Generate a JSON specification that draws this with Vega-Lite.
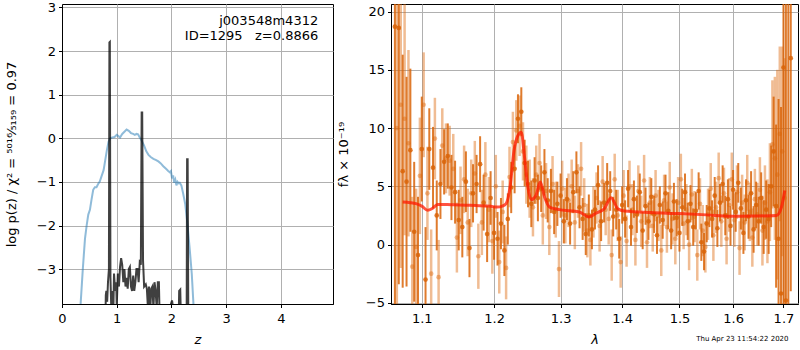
{
 "$schema": "https://vega.github.io/schema/vega-lite/v6.json",
 "padding": {"left": 4, "top": 0, "right": 0, "bottom": 0},
 "spacing": 2,
 "title": {"text": "Thu Apr 23 11:54:22 2020", "orient": "bottom", "anchor": "end", "fontSize": 7, "fontWeight": "normal", "color": "black", "offset": -12, "dx": -10},
 "config": {
  "font": "DejaVu Sans",
  "view": {"stroke": "black", "strokeWidth": 1},
  "axis": {"grid": true, "gridColor": "#b0b0b0", "gridWidth": 1, "domainColor": "black", "tickColor": "black", "tickSize": 3.5, "labelFontSize": 13, "labelColor": "black", "labelPadding": 3, "titleFontSize": 13, "titleFontWeight": "normal", "titleColor": "black", "labelFlush": false, "labelOverlap": false},
  "axisX": {"labelPadding": 5, "titlePadding": 8}
 },
 "datasets": {
  "blue": [
   {"z":0.30,"p":-5},{"z":0.34,"p":-3.8},{"z":0.38,"p":-3.0},{"z":0.42,"p":-2.3},{"z":0.45,"p":-2.0},{"z":0.48,"p":-1.75},{"z":0.51,"p":-1.64},{"z":0.54,"p":-1.4},{"z":0.57,"p":-1.18},{"z":0.60,"p":-1.12},{"z":0.63,"p":-1.12},{"z":0.66,"p":-1.05},{"z":0.69,"p":-0.99},{"z":0.72,"p":-0.88},{"z":0.76,"p":-0.73},{"z":0.79,"p":-0.5},{"z":0.82,"p":-0.27},{"z":0.85,"p":-0.08},{"z":0.88,"p":0.0},{"z":0.92,"p":0.02},{"z":0.96,"p":0.03},{"z":1.00,"p":0.08},{"z":1.03,"p":0.05},{"z":1.06,"p":0.02},{"z":1.10,"p":0.1},{"z":1.14,"p":0.15},{"z":1.18,"p":0.2},{"z":1.22,"p":0.17},{"z":1.26,"p":0.12},{"z":1.30,"p":0.1},{"z":1.33,"p":0.08},{"z":1.36,"p":0.1},{"z":1.39,"p":0.09},{"z":1.42,"p":0.02},{"z":1.45,"p":-0.04},{"z":1.50,"p":-0.17},{"z":1.54,"p":-0.3},{"z":1.58,"p":-0.38},{"z":1.62,"p":-0.43},{"z":1.67,"p":-0.47},{"z":1.72,"p":-0.5},{"z":1.76,"p":-0.53},{"z":1.80,"p":-0.57},{"z":1.85,"p":-0.64},{"z":1.90,"p":-0.7},{"z":1.94,"p":-0.75},{"z":1.97,"p":-0.78},{"z":1.99,"p":-0.75},{"z":2.01,"p":-0.92},{"z":2.03,"p":-0.85},{"z":2.05,"p":-1.02},{"z":2.07,"p":-0.95},{"z":2.09,"p":-1.08},{"z":2.11,"p":-1.0},{"z":2.13,"p":-1.03},{"z":2.15,"p":-1.02},{"z":2.18,"p":-1.08},{"z":2.21,"p":-1.25},{"z":2.25,"p":-1.5},{"z":2.29,"p":-1.95},{"z":2.33,"p":-2.5},{"z":2.37,"p":-3.1},{"z":2.40,"p":-3.78},{"z":2.43,"p":-4.5}
  ],
  "black": [
   {"z":0.75,"p":-6},{"z":0.79,"p":-4.5},{"z":0.80,"p":-3.6},{"z":0.81,"p":-3.5},{"z":0.825,"p":-3.75},{"z":0.84,"p":-3.3},{"z":0.857,"p":-3.0},{"z":0.866,"p":2.2},{"z":0.874,"p":2.21},{"z":0.885,"p":-3.2},{"z":0.90,"p":-3.9},{"z":0.92,"p":-3.5},{"z":0.935,"p":-4.2},{"z":0.95,"p":-3.1},{"z":0.97,"p":-3.5},{"z":0.99,"p":-3.3},{"z":1.00,"p":-3.85},{"z":1.02,"p":-3.1},{"z":1.04,"p":-3.4},{"z":1.06,"p":-2.95},{"z":1.08,"p":-2.75},{"z":1.10,"p":-2.9},{"z":1.12,"p":-3.3},{"z":1.14,"p":-3.0},{"z":1.16,"p":-3.4},{"z":1.18,"p":-3.2},{"z":1.20,"p":-3.45},{"z":1.22,"p":-3.0},{"z":1.24,"p":-2.95},{"z":1.26,"p":-3.4},{"z":1.28,"p":-3.5},{"z":1.30,"p":-3.15},{"z":1.32,"p":-3.5},{"z":1.34,"p":-3.3},{"z":1.36,"p":-3.0},{"z":1.38,"p":-3.0},{"z":1.40,"p":-3.3},{"z":1.42,"p":-2.85},{"z":1.44,"p":-2.9},{"z":1.455,"p":0.59},{"z":1.465,"p":0.59},{"z":1.48,"p":-2.8},{"z":1.50,"p":-3.4},{"z":1.53,"p":-3.35},{"z":1.55,"p":-3.45},{"z":1.57,"p":-3.9},{"z":1.59,"p":-3.4},{"z":1.61,"p":-4.0},{"z":1.63,"p":-3.45},{"z":1.65,"p":-3.4},{"z":1.67,"p":-3.9},{"z":1.69,"p":-3.3},{"z":1.71,"p":-3.5},{"z":1.73,"p":-3.9},{"z":1.75,"p":-3.3},{"z":1.77,"p":-3.3},{"z":1.79,"p":-4.5},{"z":1.85,"p":-6},{"z":1.95,"p":-6},{"z":1.99,"p":-3.8},{"z":2.01,"p":-3.72},{"z":2.03,"p":-3.9},{"z":2.08,"p":-6},{"z":2.12,"p":-5},{"z":2.14,"p":-3.5},{"z":2.16,"p":-3.47},{"z":2.18,"p":-4.5},{"z":2.22,"p":-6},{"z":2.275,"p":-5},{"z":2.285,"p":-0.48},{"z":2.295,"p":-0.48},{"z":2.31,"p":-5},{"z":2.35,"p":-6}
  ],
  "label": [
   {"z":4.68,"p":2.68,"t":"j003548m4312"},
   {"z":4.68,"p":2.34,"t":"ID=1295\u00a0\u00a0\u00a0z=0.8866"}
  ],
  "a": [
   {"l":1.065,"f":18.7,"e":25},{"l":1.070,"f":18.6,"e":22},{"l":1.075,"f":6.3,"e":10},{"l":1.080,"f":5.4,"e":9},{"l":1.085,"f":8.1,"e":7},{"l":1.090,"f":1.1,"e":6},{"l":1.095,"f":-0.9,"e":5},{"l":1.100,"f":8.2,"e":4.5},{"l":1.105,"f":-3.0,"e":4.5},{"l":1.110,"f":8.2,"e":3.5},{"l":1.115,"f":6.6,"e":3.5},{"l":1.120,"f":2.5,"e":3},{"l":1.125,"f":5.2,"e":3},{"l":1.130,"f":7.1,"e":2.8},{"l":1.135,"f":7.6,"e":2.8},{"l":1.140,"f":4.9,"e":2.8},{"l":1.145,"f":4.5,"e":2.7},{"l":1.150,"f":2.1,"e":2.6},{"l":1.155,"f":1.5,"e":2.6},{"l":1.160,"f":5.4,"e":2.6},{"l":1.165,"f":-0.3,"e":2.5},{"l":1.170,"f":4.4,"e":2.5},{"l":1.175,"f":5.2,"e":2.5},{"l":1.180,"f":6.9,"e":2.4},{"l":1.185,"f":3.6,"e":2.4},{"l":1.190,"f":0.9,"e":2.4},{"l":1.195,"f":4.0,"e":2.3},{"l":1.200,"f":1.0,"e":2.3},{"l":1.205,"f":0.5,"e":2.3},{"l":1.210,"f":1.8,"e":2.2},{"l":1.215,"f":-0.5,"e":2.2},{"l":1.220,"f":2.2,"e":2.2},{"l":1.225,"f":4.9,"e":2.2},{"l":1.230,"f":6.5,"e":2.1},{"l":1.235,"f":10.8,"e":2.1},{"l":1.240,"f":11.4,"e":2.1},{"l":1.245,"f":7.0,"e":2.0},{"l":1.250,"f":5.2,"e":2.0},{"l":1.255,"f":3.5,"e":2.0},{"l":1.260,"f":5.5,"e":2.0},{"l":1.265,"f":4.0,"e":2.0},{"l":1.270,"f":4.8,"e":2.0},{"l":1.275,"f":6.2,"e":2.0},{"l":1.280,"f":3.8,"e":1.9},{"l":1.285,"f":4.6,"e":1.9},{"l":1.290,"f":2.8,"e":1.9},{"l":1.295,"f":3.5,"e":1.9},{"l":1.300,"f":4.2,"e":1.9},{"l":1.305,"f":2.0,"e":1.9},{"l":1.310,"f":3.9,"e":1.8},{"l":1.315,"f":1.8,"e":1.8},{"l":1.320,"f":4.5,"e":1.8},{"l":1.325,"f":6.2,"e":1.8},{"l":1.330,"f":3.2,"e":1.8},{"l":1.335,"f":2.2,"e":1.8},{"l":1.340,"f":0.9,"e":1.8},{"l":1.345,"f":2.5,"e":1.8},{"l":1.350,"f":1.3,"e":1.7},{"l":1.355,"f":3.0,"e":1.7},{"l":1.360,"f":5.1,"e":1.7},{"l":1.365,"f":2.0,"e":1.7},{"l":1.370,"f":3.6,"e":1.7},{"l":1.375,"f":5.3,"e":1.7},{"l":1.380,"f":4.6,"e":1.7},{"l":1.385,"f":2.4,"e":1.7},{"l":1.390,"f":3.0,"e":1.7},{"l":1.395,"f":0.5,"e":1.7},{"l":1.400,"f":3.4,"e":1.6},{"l":1.405,"f":2.2,"e":1.6},{"l":1.410,"f":4.8,"e":1.6},{"l":1.415,"f":1.5,"e":1.6},{"l":1.420,"f":3.9,"e":1.6},{"l":1.425,"f":2.6,"e":1.6},{"l":1.430,"f":4.5,"e":1.6},{"l":1.435,"f":1.2,"e":1.6},{"l":1.440,"f":3.3,"e":1.6},{"l":1.445,"f":2.0,"e":1.6},{"l":1.450,"f":4.1,"e":1.6},{"l":1.455,"f":2.6,"e":1.6},{"l":1.460,"f":0.8,"e":1.6},{"l":1.465,"f":3.4,"e":1.6},{"l":1.470,"f":2.1,"e":1.6},{"l":1.475,"f":4.4,"e":1.6},{"l":1.480,"f":2.9,"e":1.6},{"l":1.485,"f":1.2,"e":1.6},{"l":1.490,"f":3.7,"e":1.6},{"l":1.495,"f":2.3,"e":1.6},{"l":1.500,"f":1.0,"e":1.6},{"l":1.505,"f":3.2,"e":1.6},{"l":1.510,"f":4.5,"e":1.6},{"l":1.515,"f":2.0,"e":1.6},{"l":1.520,"f":3.5,"e":1.6},{"l":1.525,"f":1.5,"e":1.6},{"l":1.530,"f":2.9,"e":1.6},{"l":1.535,"f":4.6,"e":1.6},{"l":1.540,"f":0.2,"e":1.6},{"l":1.545,"f":-0.6,"e":1.6},{"l":1.550,"f":1.8,"e":1.6},{"l":1.555,"f":3.1,"e":1.6},{"l":1.560,"f":2.2,"e":1.6},{"l":1.565,"f":4.2,"e":1.6},{"l":1.570,"f":1.4,"e":1.6},{"l":1.575,"f":3.6,"e":1.6},{"l":1.580,"f":5.2,"e":1.6},{"l":1.585,"f":2.5,"e":1.7},{"l":1.590,"f":3.9,"e":1.7},{"l":1.595,"f":1.6,"e":1.7},{"l":1.600,"f":4.7,"e":1.7},{"l":1.605,"f":2.8,"e":1.7},{"l":1.610,"f":5.3,"e":1.7},{"l":1.615,"f":3.1,"e":1.8},{"l":1.620,"f":1.0,"e":1.8},{"l":1.625,"f":3.8,"e":1.8},{"l":1.630,"f":2.4,"e":1.9},{"l":1.635,"f":4.4,"e":1.9},{"l":1.640,"f":1.3,"e":2.0},{"l":1.645,"f":3.4,"e":2.0},{"l":1.650,"f":2.0,"e":2.1},{"l":1.655,"f":4.0,"e":2.2},{"l":1.660,"f":1.5,"e":2.3},{"l":1.665,"f":3.0,"e":2.5},{"l":1.670,"f":2.2,"e":3.0},{"l":1.675,"f":5.0,"e":3.5},{"l":1.680,"f":8.0,"e":4.7},{"l":1.685,"f":3.3,"e":7},{"l":1.690,"f":0.5,"e":12},{"l":1.695,"f":-4.2,"e":16},{"l":1.700,"f":15.2,"e":25},{"l":1.705,"f":-4.8,"e":30},{"l":1.710,"f":-5.5,"e":30},{"l":1.715,"f":16,"e":20}
  ],
  "b": [
   {"l":1.0675,"f":10.0,"e":18},{"l":1.0725,"f":12.0,"e":14},{"l":1.0775,"f":10.8,"e":10},{"l":1.0825,"f":8.7,"e":8},{"l":1.0875,"f":-1.9,"e":6},{"l":1.0925,"f":-0.2,"e":5},{"l":1.0975,"f":5.9,"e":5},{"l":1.1025,"f":12.0,"e":4.5},{"l":1.1075,"f":4.4,"e":4},{"l":1.1125,"f":-2.5,"e":3.8},{"l":1.1175,"f":9.1,"e":3.5},{"l":1.1225,"f":-2.8,"e":3.2},{"l":1.1275,"f":8.5,"e":3.2},{"l":1.1325,"f":7.4,"e":3},{"l":1.1375,"f":7.2,"e":3},{"l":1.1425,"f":6.5,"e":3},{"l":1.1475,"f":0.6,"e":3},{"l":1.1525,"f":3.8,"e":2.9},{"l":1.1575,"f":5.6,"e":2.9},{"l":1.1625,"f":1.9,"e":2.9},{"l":1.1675,"f":4.4,"e":2.9},{"l":1.1725,"f":6.1,"e":2.8},{"l":1.1775,"f":-1.0,"e":2.8},{"l":1.1825,"f":1.9,"e":2.8},{"l":1.1875,"f":6.0,"e":2.8},{"l":1.1925,"f":3.0,"e":2.8},{"l":1.1975,"f":0.3,"e":2.8},{"l":1.2025,"f":5.0,"e":2.7},{"l":1.2075,"f":-1.5,"e":2.7},{"l":1.2125,"f":2.8,"e":2.7},{"l":1.2175,"f":-2.0,"e":2.7},{"l":1.2225,"f":5.8,"e":2.6},{"l":1.2275,"f":8.8,"e":2.6},{"l":1.2325,"f":9.8,"e":2.6},{"l":1.2375,"f":10.2,"e":2.6},{"l":1.2425,"f":8.0,"e":2.5},{"l":1.2475,"f":6.0,"e":2.5},{"l":1.2525,"f":4.8,"e":2.5},{"l":1.2575,"f":3.2,"e":2.5},{"l":1.2625,"f":6.0,"e":2.5},{"l":1.2675,"f":7.0,"e":2.5},{"l":1.2725,"f":2.5,"e":2.5},{"l":1.2775,"f":4.6,"e":2.4},{"l":1.2825,"f":1.5,"e":2.4},{"l":1.2875,"f":5.2,"e":2.4},{"l":1.2925,"f":3.0,"e":2.4},{"l":1.2975,"f":-2.1,"e":2.4},{"l":1.3025,"f":4.8,"e":2.4},{"l":1.3075,"f":2.5,"e":2.4},{"l":1.3125,"f":3.8,"e":2.3},{"l":1.3175,"f":5.0,"e":2.3},{"l":1.3225,"f":1.9,"e":2.3},{"l":1.3275,"f":4.6,"e":2.3},{"l":1.3325,"f":6.5,"e":2.3},{"l":1.3375,"f":3.4,"e":2.3},{"l":1.3425,"f":1.2,"e":2.3},{"l":1.3475,"f":0.4,"e":2.2},{"l":1.3525,"f":2.8,"e":2.2},{"l":1.3575,"f":4.0,"e":2.2},{"l":1.3625,"f":1.6,"e":2.2},{"l":1.3675,"f":5.4,"e":2.2},{"l":1.3725,"f":3.0,"e":2.2},{"l":1.3775,"f":2.2,"e":2.2},{"l":1.3825,"f":-0.9,"e":2.2},{"l":1.3875,"f":5.6,"e":2.2},{"l":1.3925,"f":2.5,"e":2.2},{"l":1.3975,"f":-1.5,"e":2.2},{"l":1.4025,"f":4.2,"e":2.2},{"l":1.4075,"f":0.3,"e":2.2},{"l":1.4125,"f":5.0,"e":2.2},{"l":1.4175,"f":3.0,"e":2.2},{"l":1.4225,"f":0.4,"e":2.2},{"l":1.4275,"f":4.6,"e":2.2},{"l":1.4325,"f":2.0,"e":2.2},{"l":1.4375,"f":5.5,"e":2.2},{"l":1.4425,"f":0.2,"e":2.2},{"l":1.4475,"f":3.6,"e":2.2},{"l":1.4525,"f":1.6,"e":2.2},{"l":1.4575,"f":4.2,"e":2.2},{"l":1.4625,"f":2.5,"e":2.2},{"l":1.4675,"f":-0.5,"e":2.2},{"l":1.4725,"f":3.8,"e":2.2},{"l":1.4775,"f":1.5,"e":2.2},{"l":1.4825,"f":4.9,"e":2.2},{"l":1.4875,"f":2.2,"e":2.2},{"l":1.4925,"f":0.5,"e":2.2},{"l":1.4975,"f":3.6,"e":2.2},{"l":1.5025,"f":5.6,"e":2.2},{"l":1.5075,"f":1.8,"e":2.2},{"l":1.5125,"f":3.0,"e":2.2},{"l":1.5175,"f":0.0,"e":2.2},{"l":1.5225,"f":4.3,"e":2.2},{"l":1.5275,"f":2.4,"e":2.2},{"l":1.5325,"f":-0.9,"e":2.2},{"l":1.5375,"f":3.5,"e":2.2},{"l":1.5425,"f":1.2,"e":2.2},{"l":1.5475,"f":-0.2,"e":2.2},{"l":1.5525,"f":2.6,"e":2.2},{"l":1.5575,"f":4.8,"e":2.2},{"l":1.5625,"f":0.8,"e":2.2},{"l":1.5675,"f":3.2,"e":2.2},{"l":1.5725,"f":5.7,"e":2.2},{"l":1.5775,"f":2.0,"e":2.2},{"l":1.5825,"f":4.4,"e":2.2},{"l":1.5875,"f":0.5,"e":2.2},{"l":1.5925,"f":3.4,"e":2.3},{"l":1.5975,"f":5.6,"e":2.3},{"l":1.6025,"f":2.1,"e":2.3},{"l":1.6075,"f":4.5,"e":2.3},{"l":1.6125,"f":-0.3,"e":2.3},{"l":1.6175,"f":3.6,"e":2.4},{"l":1.6225,"f":1.9,"e":2.4},{"l":1.6275,"f":5.3,"e":2.4},{"l":1.6325,"f":2.8,"e":2.5},{"l":1.6375,"f":0.6,"e":2.5},{"l":1.6425,"f":3.9,"e":2.6},{"l":1.6475,"f":2.6,"e":2.7},{"l":1.6525,"f":4.7,"e":2.8},{"l":1.6575,"f":1.2,"e":3.0},{"l":1.6625,"f":3.6,"e":3.2},{"l":1.6675,"f":2.0,"e":3.6},{"l":1.6725,"f":4.5,"e":4.2},{"l":1.6775,"f":8.6,"e":5.5},{"l":1.6825,"f":7.4,"e":7},{"l":1.6875,"f":6.0,"e":9},{"l":1.6925,"f":9.5,"e":7.5},{"l":1.6975,"f":8.0,"e":9},{"l":1.7025,"f":4.0,"e":12}
  ],
  "model": [
   {"l":1.075,"f":3.65},{"l":1.085,"f":3.6},{"l":1.0924,"f":3.51},{"l":1.1,"f":3.3},{"l":1.1078,"f":2.94},{"l":1.114,"f":3.1},{"l":1.1212,"f":3.45},{"l":1.14,"f":3.42},{"l":1.16,"f":3.38},{"l":1.179,"f":3.34},{"l":1.195,"f":3.28},{"l":1.2046,"f":3.22},{"l":1.212,"f":3.3},{"l":1.2175,"f":3.51},{"l":1.2233,"f":4.94},{"l":1.2292,"f":8.08},{"l":1.2345,"f":9.3},{"l":1.2399,"f":9.65},{"l":1.2448,"f":7.5},{"l":1.2498,"f":4.94},{"l":1.2549,"f":3.86},{"l":1.262,"f":4.22},{"l":1.2686,"f":5.37},{"l":1.2752,"f":4.08},{"l":1.2828,"f":3.22},{"l":1.2983,"f":3.0},{"l":1.315,"f":2.9},{"l":1.33,"f":2.8},{"l":1.3449,"f":2.37},{"l":1.3567,"f":2.7},{"l":1.3703,"f":3.08},{"l":1.3815,"f":4.03},{"l":1.3926,"f":3.08},{"l":1.4039,"f":2.88},{"l":1.45,"f":2.75},{"l":1.5003,"f":2.66},{"l":1.55,"f":2.55},{"l":1.593,"f":2.43},{"l":1.64,"f":2.45},{"l":1.6857,"f":2.5},{"l":1.6959,"f":3.22},{"l":1.7027,"f":4.65}
  ]
 },
 "hconcat": [
  {
   "width": 271, "height": 300,
   "layer": [
    {"data": {"name": "blue"}, "mark": {"type": "line", "color": "#1f77b4", "opacity": 0.5, "strokeWidth": 2, "clip": true},
     "encoding": {
      "x": {"field": "z", "type": "quantitative", "scale": {"domain": [0, 4.95], "nice": false, "zero": false}, "axis": {"values": [0, 1, 2, 3, 4], "format": "d", "title": "z", "titleFontStyle": "italic"}},
      "y": {"field": "p", "type": "quantitative", "scale": {"domain": [-3.8, 3.08], "nice": false, "zero": false}, "axis": {"values": [-3, -2, -1, 0, 1, 2, 3], "format": "d", "title": "log p(z) / χ² = ⁵⁰¹⁶⁄₅₁₅₉ = 0.97", "titlePadding": 18}}
     }},
    {"data": {"name": "black"}, "mark": {"type": "line", "color": "black", "opacity": 0.75, "strokeWidth": 2, "clip": true},
     "encoding": {"x": {"field": "z", "type": "quantitative"}, "y": {"field": "p", "type": "quantitative"}}},
    {"data": {"name": "label"}, "mark": {"type": "text", "align": "right", "baseline": "middle", "fontSize": 13, "color": "black"},
     "encoding": {"x": {"field": "z", "type": "quantitative"}, "y": {"field": "p", "type": "quantitative"}, "text": {"field": "t"}}}
   ]
  },
  {
   "width": 407, "height": 300,
   "encoding": {
    "x": {"field": "l", "type": "quantitative", "scale": {"type": "log", "domain": [1.06, 1.73], "nice": false}, "axis": {"values": [1.1, 1.2, 1.3, 1.4, 1.5, 1.6, 1.7], "format": ".1f", "title": "λ", "titleFontStyle": "italic"}},
    "y": {"field": "f", "type": "quantitative", "scale": {"domain": [-5.1, 20.65], "nice": false, "zero": false}, "axis": {"values": [-5, 0, 5, 10, 15, 20], "format": "d", "title": "fλ × 10⁻¹⁹", "titlePadding": 15}}
   },
   "layer": [
    {"data": {"name": "b"}, "mark": {"type": "errorbar", "ticks": false, "thickness": 2.5, "color": "#dd6a10", "opacity": 0.45, "clip": true},
     "encoding": {"yError": {"field": "e"}}},
    {"data": {"name": "b"}, "mark": {"type": "point", "filled": true, "size": 22, "color": "#dd6a10", "opacity": 0.45, "clip": true}},
    {"data": {"name": "a"}, "mark": {"type": "errorbar", "ticks": false, "thickness": 2, "color": "#d96408", "opacity": 0.85, "clip": true},
     "encoding": {"yError": {"field": "e"}}},
    {"data": {"name": "a"}, "mark": {"type": "point", "filled": true, "size": 22, "color": "#d96408", "opacity": 0.85, "clip": true}},
    {"data": {"name": "model"}, "mark": {"type": "line", "color": "#ff1a00", "opacity": 0.75, "strokeWidth": 3, "clip": true, "interpolate": "monotone"}},
    {"data": {"values": [{}]}, "mark": {"type": "rule", "color": "black", "strokeWidth": 2, "strokeDash": [2, 2.5]}, "encoding": {"y": {"datum": 0}, "x": null}}
   ]
  }
 ]
}
